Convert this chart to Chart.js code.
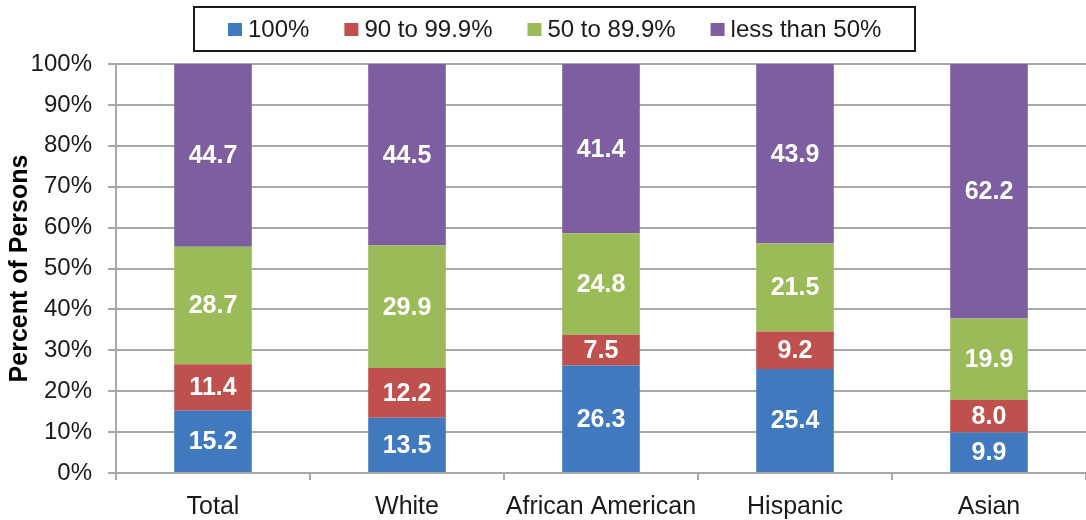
<!DOCTYPE html>
<html lang="en">
<head>
  <meta charset="UTF-8" />
  <title>Percent of Persons by Group</title>
  <script src="https://cdn.jsdelivr.net/npm/chart.js@4.4.0/dist/chart.umd.min.js"></script>
  <style>
    html, body { margin: 0; padding: 0; background: #fff; }
    .chart-box { width: 1086px; height: 520px; }
  </style>
</head>
<body>
  <div class="chart-box">
    <canvas id="groupChart"></canvas>
  </div>

  <script>
    // Categories and series (percent of persons in each band)
    const groups = ['Total', 'White', 'African American', 'Hispanic', 'Asian'];
    const full = [15.2, 13.5, 26.3, 25.4, 9.9];
    const ninety = [11.4, 12.2, 7.5, 9.2, 8.0];
    const fifty = [28.7, 29.9, 24.8, 21.5, 19.9];
    const under50 = [44.7, 44.5, 41.4, 43.9, 62.2];
    const seriesNames = ['100%', '90 to 99.9%', '50 to 89.9%', 'less than 50%'];
    const seriesColors = ['#4079be', '#c0504d', '#9bbb59', '#7c5ea1'];
    const yTicks = [0, 10, 20, 30, 40, 50, 60, 70, 80, 90, 100];

    const FONT = '"Liberation Sans", Arial, sans-serif';
    const GRID = '#a8a8a8';

    // value labels in the middle of each segment
    const segmentLabels = {
      id: 'segmentLabels',
      afterDatasetsDraw(chart) {
        const ctx = chart.ctx;
        ctx.save();
        ctx.font = 'bold 25px ' + FONT;
        ctx.fillStyle = '#fff';
        ctx.textAlign = 'center';
        ctx.textBaseline = 'middle';
        chart.data.datasets.forEach((ds, i) => {
          chart.getDatasetMeta(i).data.forEach((bar, j) => {
            const p = bar.getProps(['x', 'y', 'base'], true);
            const top = Math.max(p.y, chart.chartArea.top);
            ctx.fillText(ds.data[j].toFixed(1), p.x, (top + p.base) / 2 + 1);
          });
        });
        ctx.restore();
      }
    };

    // framed legend row above the plot
    const framedLegend = {
      id: 'framedLegend',
      afterDraw(chart) {
        const ctx = chart.ctx;
        ctx.save();
        ctx.font = '24px ' + FONT;
        const items = chart.data.datasets.map(ds => ({
          text: ds.label,
          color: ds.backgroundColor,
          w: ctx.measureText(ds.label).width
        }));
        const sq = 14, gap = 6, spacing = 35, pad = 34;
        const inner = items.reduce((s, it) => s + sq + gap + it.w, 0) + spacing * (items.length - 1);
        const boxW = Math.round(inner + pad * 2);
        const left = Math.round(chart.width / 2 + 11 - boxW / 2);
        const top = 7, h = 44;
        ctx.strokeStyle = '#1a1a1a';
        ctx.lineWidth = 2;
        ctx.strokeRect(left, top, boxW, h);
        let x = left + pad;
        const cy = top + h / 2;
        ctx.textBaseline = 'middle';
        ctx.textAlign = 'left';
        items.forEach(it => {
          ctx.fillStyle = it.color;
          ctx.fillRect(x, cy - 6, sq, 13);
          ctx.fillStyle = '#1a1a1a';
          ctx.fillText(it.text, x + sq + gap, cy + 1);
          x += sq + gap + it.w + spacing;
        });
        ctx.restore();
      }
    };

    const seriesData = [full, ninety, fifty, under50];

    new Chart(document.getElementById('groupChart'), {
      type: 'bar',
      data: {
        labels: groups,
        datasets: seriesData.map((values, i) => ({
          label: seriesNames[i],
          data: values,
          backgroundColor: seriesColors[i],
          borderWidth: 0,
          categoryPercentage: 1,
          barPercentage: 0.4
        }))
      },
      options: {
        responsive: true,
        maintainAspectRatio: false,
        animation: false,
        layout: { padding: { top: 64, left: 8, right: 0, bottom: 0 } },
        plugins: {
          legend: { display: false },
          tooltip: { enabled: false }
        },
        scales: {
          x: {
            stacked: true,
            afterFit(scale) {
              scale.height = 47;
            },
            grid: {
              offset: true,
              drawOnChartArea: false,
              tickLength: 7,
              color: GRID,
              lineWidth: 2
            },
            border: { color: GRID, width: 2 },
            ticks: {
              color: '#1a1a1a',
              font: { family: FONT, size: 25 },
              padding: 12,
              maxRotation: 0,
              autoSkip: false
            }
          },
          y: {
            stacked: true,
            min: 0,
            max: 100,
            afterBuildTicks(scale) {
              scale.ticks = yTicks.map(v => ({ value: v }));
            },
            afterFit(scale) {
              scale.width = 108;
            },
            grid: { color: GRID, lineWidth: 2, tickLength: 8 },
            border: { color: GRID, width: 2 },
            ticks: {
              color: '#1a1a1a',
              font: { family: FONT, size: 24 },
              padding: 16,
              callback: v => v + '%'
            },
            title: {
              display: true,
              text: 'Percent of Persons',
              color: '#000',
              font: { family: FONT, size: 25, weight: 'bold', lineHeight: 1 },
              padding: 0
            }
          }
        }
      },
      plugins: [segmentLabels, framedLegend]
    });
  </script>
</body>
</html>
